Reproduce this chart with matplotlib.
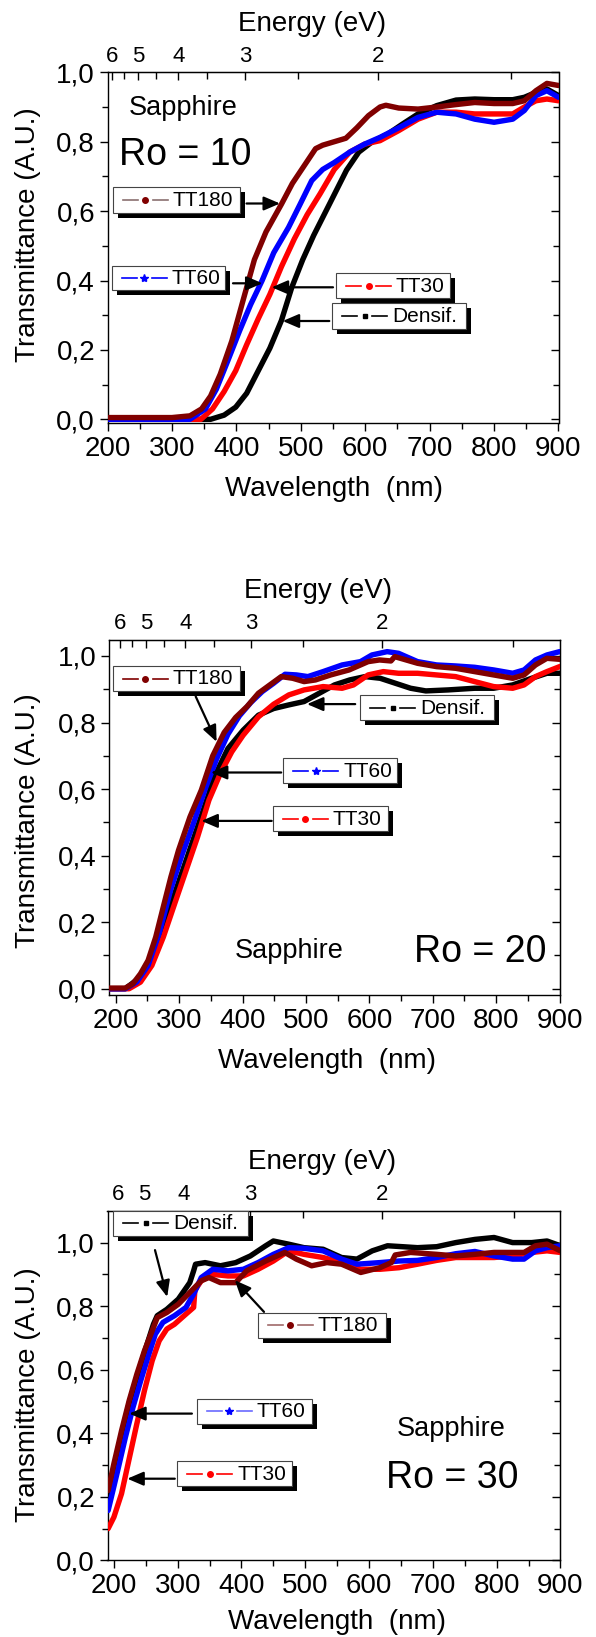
import numpy as np
import matplotlib
matplotlib.use('Agg')
import matplotlib.pyplot as plt
from matplotlib.patches import Rectangle, FancyArrowPatch
from matplotlib.lines import Line2D
from matplotlib.ticker import FuncFormatter, MultipleLocator, FixedLocator, NullFormatter

plt.rcParams['font.family'] = ['Liberation Sans', 'DejaVu Sans']

# ---------------- data: Ro = 10 ----------------
wl_r10_tt180 = [200, 300, 328, 346, 360, 375, 393, 410, 428, 446, 470, 487, 505, 523, 534, 552, 570, 587, 605, 623, 632, 652, 682, 711, 741, 770, 800, 829, 847, 865, 882, 900]
t_r10_tt180 = [0.005, 0.005, 0.01, 0.03, 0.067, 0.13, 0.226, 0.34, 0.46, 0.54, 0.62, 0.68, 0.73, 0.78, 0.79, 0.80, 0.81, 0.84, 0.875, 0.90, 0.905, 0.897, 0.894, 0.90, 0.907, 0.913, 0.91, 0.91, 0.918, 0.947, 0.968, 0.962]
wl_r10_tt60 = [200, 328, 352, 369, 387, 405, 422, 440, 458, 481, 499, 517, 534, 552, 576, 599, 623, 652, 682, 711, 741, 770, 800, 829, 847, 865, 882, 900]
t_r10_tt60 = [0.0, 0.0, 0.03, 0.087, 0.17, 0.255, 0.33, 0.40, 0.48, 0.553, 0.62, 0.688, 0.72, 0.74, 0.77, 0.793, 0.8125, 0.84, 0.87, 0.885, 0.88, 0.865, 0.856, 0.865, 0.89, 0.933, 0.947, 0.928]
wl_r10_tt30 = [200, 345, 363, 381, 399, 416, 434, 452, 470, 490, 510, 530, 552, 576, 599, 623, 652, 682, 711, 741, 770, 800, 829, 847, 865, 882, 900]
t_r10_tt30 = [0.0, 0.0, 0.03, 0.08, 0.14, 0.215, 0.29, 0.36, 0.44, 0.52, 0.59, 0.65, 0.72, 0.77, 0.793, 0.803, 0.832, 0.865, 0.885, 0.885, 0.88, 0.88, 0.88, 0.9, 0.918, 0.923, 0.918]
wl_r10_dens = [200, 360, 381, 399, 416, 434, 452, 470, 486, 503, 520, 545, 571, 590, 611, 635, 658, 682, 711, 741, 770, 800, 829, 847, 865, 882, 900]
t_r10_dens = [0.0, 0.0, 0.012, 0.035, 0.075, 0.14, 0.205, 0.285, 0.38, 0.46, 0.53, 0.622, 0.718, 0.77, 0.80, 0.822, 0.851, 0.88, 0.904, 0.92, 0.923, 0.921, 0.921, 0.928, 0.942, 0.952, 0.933]

# ---------------- data: Ro = 20 ----------------
wl_r20_tt180 = [190, 215, 227, 239, 251, 263, 275, 287, 299, 317, 335, 353, 371, 389, 407, 425, 443, 461, 479, 497, 515, 539, 568, 598, 616, 634, 640, 676, 706, 736, 766, 796, 826, 844, 862, 880, 900]
t_r20_tt180 = [0.002, 0.002, 0.015, 0.045, 0.085, 0.155, 0.246, 0.336, 0.416, 0.516, 0.597, 0.70, 0.77, 0.815, 0.848, 0.888, 0.913, 0.938, 0.933, 0.923, 0.928, 0.943, 0.958, 0.983, 0.988, 0.985, 0.998, 0.978, 0.968, 0.963, 0.953, 0.943, 0.933, 0.943, 0.973, 0.993, 0.99]
wl_r20_tt60 = [190, 215, 233, 251, 269, 287, 305, 323, 341, 359, 377, 395, 413, 431, 449, 467, 485, 503, 527, 557, 586, 604, 628, 646, 676, 706, 736, 766, 796, 826, 844, 862, 880, 900]
t_r20_tt60 = [0.0, 0.0, 0.02, 0.07, 0.17, 0.30, 0.405, 0.50, 0.60, 0.69, 0.765, 0.82, 0.86, 0.893, 0.918, 0.945, 0.943, 0.938, 0.953, 0.973, 0.983, 1.003, 1.013, 1.008, 0.983, 0.973, 0.97, 0.966, 0.958, 0.948, 0.958, 0.988, 1.003, 1.013]
wl_r20_tt30 = [190, 221, 239, 257, 275, 293, 311, 329, 347, 365, 383, 401, 425, 449, 473, 497, 527, 557, 575, 598, 622, 646, 676, 706, 736, 766, 796, 826, 844, 862, 880, 900]
t_r20_tt30 = [0.0, 0.0, 0.02, 0.07, 0.155, 0.256, 0.356, 0.456, 0.567, 0.647, 0.712, 0.762, 0.817, 0.855, 0.883, 0.898, 0.908, 0.903, 0.913, 0.943, 0.953, 0.948, 0.948, 0.943, 0.938, 0.923, 0.908, 0.903, 0.913, 0.938, 0.953, 0.968]
wl_r20_dens = [190, 215, 239, 257, 275, 293, 311, 329, 347, 353, 377, 401, 425, 449, 473, 497, 521, 545, 569, 593, 617, 641, 665, 689, 724, 766, 796, 826, 856, 880, 900]
t_r20_dens = [0.0, 0.0, 0.035, 0.095, 0.186, 0.286, 0.386, 0.486, 0.587, 0.627, 0.722, 0.777, 0.822, 0.842, 0.853, 0.863, 0.888, 0.913, 0.928, 0.938, 0.933, 0.918, 0.903, 0.895, 0.898, 0.903, 0.903, 0.913, 0.933, 0.948, 0.948]

# ---------------- data: Ro = 30 ----------------
wl_r30_tt180 = [191, 200, 212, 224, 236, 248, 260, 268, 283, 301, 319, 337, 349, 367, 391, 408, 438, 468, 486, 510, 534, 557, 587, 617, 635, 641, 665, 706, 736, 766, 796, 825, 843, 861, 879, 900]
t_r30_tt180 = [0.22, 0.304, 0.408, 0.503, 0.586, 0.66, 0.722, 0.764, 0.78, 0.806, 0.843, 0.88, 0.89, 0.874, 0.874, 0.911, 0.942, 0.969, 0.948, 0.927, 0.937, 0.932, 0.906, 0.921, 0.937, 0.961, 0.969, 0.963, 0.958, 0.963, 0.969, 0.969, 0.969, 0.99, 0.995, 0.974]
wl_r30_tt60 = [191, 206, 218, 230, 242, 254, 265, 277, 295, 313, 325, 337, 355, 379, 403, 426, 450, 474, 498, 528, 557, 581, 617, 647, 676, 706, 736, 766, 796, 825, 843, 861, 879, 900]
t_r30_tt60 = [0.157, 0.283, 0.387, 0.482, 0.565, 0.644, 0.712, 0.749, 0.77, 0.796, 0.838, 0.89, 0.916, 0.911, 0.916, 0.937, 0.963, 0.984, 0.982, 0.974, 0.948, 0.932, 0.937, 0.942, 0.944, 0.953, 0.965, 0.972, 0.958, 0.948, 0.948, 0.974, 0.984, 0.99]
wl_r30_tt30 = [191, 200, 212, 224, 236, 248, 260, 271, 283, 295, 313, 325, 327, 337, 355, 379, 403, 426, 450, 474, 498, 528, 557, 587, 617, 647, 676, 706, 736, 766, 796, 825, 855, 879, 900]
t_r30_tt30 = [0.1, 0.136, 0.21, 0.32, 0.43, 0.535, 0.628, 0.691, 0.728, 0.743, 0.775, 0.796, 0.85, 0.88, 0.9, 0.895, 0.895, 0.916, 0.942, 0.974, 0.963, 0.953, 0.937, 0.916, 0.916, 0.921, 0.932, 0.944, 0.953, 0.953, 0.953, 0.958, 0.969, 0.974, 0.969]
wl_r30_dens = [191, 200, 224, 248, 262, 268, 283, 301, 319, 325, 328, 343, 367, 391, 414, 438, 450, 474, 498, 528, 557, 581, 605, 629, 653, 676, 706, 736, 766, 796, 825, 855, 879, 900]
t_r30_dens = [0.21, 0.29, 0.495, 0.655, 0.743, 0.77, 0.79, 0.822, 0.874, 0.911, 0.932, 0.937, 0.927, 0.937, 0.958, 0.99, 1.005, 0.995, 0.984, 0.979, 0.953, 0.948, 0.974, 0.99, 0.987, 0.984, 0.987, 1.0, 1.01, 1.016, 1.0, 1.0, 1.005, 0.99]

energy_ticks = [6, 5, 4, 3, 2]
energy_minor = [5.5, 4.5, 3.5, 2.5, 1.5]

C_TT180 = '#800000'
C_TT60 = '#0000ff'
C_TT30 = '#ff0000'
C_DENS = '#000000'

W, H = 596, 1637
fig = plt.figure(figsize=(W / 100, H / 100), dpi=100)


def fx(x):
    return x / W


def fy(y):
    return 1 - y / H


def comma(v, pos):
    return f"{v:.1f}".replace('.', ',')


def make_axes(l, t, r, b, xlim, ylim):
    ax = fig.add_axes([fx(l), fy(b), (r - l) / W, (b - t) / H])
    ax.set_xlim(*xlim)
    ax.set_ylim(*ylim)
    for s in ax.spines.values():
        s.set_linewidth(1.0)
    ax.xaxis.set_major_locator(MultipleLocator(100))
    ax.xaxis.set_minor_locator(MultipleLocator(50))
    ax.yaxis.set_major_locator(FixedLocator([0, 0.2, 0.4, 0.6, 0.8, 1.0]))
    ax.yaxis.set_minor_locator(FixedLocator([0.1, 0.3, 0.5, 0.7, 0.9]))
    ax.yaxis.set_major_formatter(FuncFormatter(comma))
    ax.tick_params(which='both', top=False, right=False, direction='out', width=1.0)
    ax.tick_params(which='major', length=6, labelsize=20)
    ax.tick_params(which='minor', length=4)
    ax.tick_params(axis='x', which='major', pad=3)
    ax.tick_params(axis='y', which='major', pad=3)

    sec = ax.secondary_xaxis('top', functions=(lambda x: 1240.0 / np.asarray(x, float),
                                               lambda e: 1240.0 / np.asarray(e, float)))
    sec.xaxis.set_major_locator(FixedLocator(energy_ticks))
    sec.xaxis.set_minor_locator(FixedLocator(energy_minor))
    sec.xaxis.set_major_formatter(FuncFormatter(lambda v, p: f"{v:g}"))
    sec.tick_params(which='both', direction='in', width=1.0)
    sec.tick_params(which='major', length=6, labelsize=16, pad=4)
    sec.tick_params(which='minor', length=5)

    sr = ax.secondary_yaxis('right')
    sr.yaxis.set_major_locator(FixedLocator([0, 0.2, 0.4, 0.6, 0.8, 1.0]))
    sr.yaxis.set_minor_locator(FixedLocator([0.1, 0.3, 0.5, 0.7, 0.9]))
    sr.yaxis.set_major_formatter(NullFormatter())
    sr.tick_params(which='both', direction='in', width=1.0)
    sr.tick_params(which='major', length=6)
    sr.tick_params(which='minor', length=4)
    return ax


def curves(ax, series):
    for wl, t, c in series:
        ax.plot(wl, t, color=c, lw=3.9, solid_capstyle='round', solid_joinstyle='round', zorder=3)


def tag(x0, y0, x1, y1, text, lcolor, mcolor, marker, ms=4):
    w, h = x1 - x0, y1 - y0
    fig.add_artist(Rectangle((fx(x0 + 5), fy(y1 + 5)), w / W, h / H, transform=fig.transFigure,
                             facecolor='black', edgecolor='none', zorder=10))
    fig.add_artist(Rectangle((fx(x0), fy(y1)), w / W, h / H, transform=fig.transFigure,
                             facecolor='white', edgecolor='#444444', lw=0.8, zorder=11))
    yc = (y0 + y1) / 2
    for a, b in ((x0 + 10, x0 + 25), (x0 + 40, x0 + 55)):
        fig.add_artist(Line2D([fx(a), fx(b)], [fy(yc), fy(yc)], transform=fig.transFigure,
                              color=lcolor, lw=1.2, zorder=12))
    fig.add_artist(Line2D([fx(x0 + 32.5)], [fy(yc)], transform=fig.transFigure, marker=marker,
                          ms=ms, color=mcolor, mec=mcolor, ls='none', zorder=12))
    fig.text(fx(x0 + 60), fy(yc + 0.5), text, fontsize=15, ha='left', va='center', zorder=12)


def arrow(xa, ya, xb, yb):
    fig.add_artist(FancyArrowPatch((fx(xa), fy(ya)), (fx(xb), fy(yb)), transform=fig.transFigure,
                                   arrowstyle='-|>,head_length=0.7,head_width=0.3', mutation_scale=14,
                                   lw=1.6, color='black', shrinkA=0, shrinkB=0, zorder=9))


def labels(ylab_y, xlab_x, xlab_y, en_x, en_y):
    fig.text(fx(28.5), fy(ylab_y), 'Transmittance (A.U.)', rotation=90, fontsize=20,
             ha='center', va='center')
    fig.text(fx(xlab_x), fy(xlab_y), 'Wavelength  (nm)', fontsize=20, ha='center', va='center')
    fig.text(fx(en_x), fy(en_y), 'Energy (eV)', fontsize=20, ha='center', va='center')


# ---------------- Panel 1 : Ro = 10 ----------------
ax1 = make_axes(107.5, 72.3, 558.5, 423.3, (200, 900), (-0.0115, 1.0))
curves(ax1, [(wl_r10_dens, t_r10_dens, C_DENS), (wl_r10_tt30, t_r10_tt30, C_TT30),
             (wl_r10_tt60, t_r10_tt60, C_TT60), (wl_r10_tt180, t_r10_tt180, C_TT180)])
labels(234.8, 334.3, 489.4, 312.1, 24)
fig.text(fx(129), fy(108), 'Sapphire', fontsize=19.5, ha='left', va='center')
fig.text(fx(119), fy(155), 'Ro = 10', fontsize=27, ha='left', va='center')
tag(112.5, 187, 240, 212.5, 'TT180', '#8a7070', C_TT180, 'o', 4)
arrow(246.5, 203.5, 280, 203.5)
tag(111.5, 265.5, 225, 290, 'TT60', C_TT60, C_TT60, '*', 6)
arrow(233, 283.3, 262.5, 283.3)
tag(336, 273.3, 450, 297.7, 'TT30', C_TT30, C_TT30, 'o', 4)
arrow(333, 287.3, 271.7, 287.3)
tag(332.3, 303.3, 466, 329.3, 'Densif.', C_DENS, C_DENS, 's', 3.5)
arrow(329.3, 321, 282.7, 321)

# ---------------- Panel 2 : Ro = 20 ----------------
ax2 = make_axes(109.4, 640, 559.6, 995.4, (190, 900), (-0.02, 1.048))
curves(ax2, [(wl_r20_dens, t_r20_dens, C_DENS), (wl_r20_tt30, t_r20_tt30, C_TT30),
             (wl_r20_tt60, t_r20_tt60, C_TT60), (wl_r20_tt180, t_r20_tt180, C_TT180)])
labels(820.3, 326.7, 1060.5, 318.2, 590.7)
fig.text(fx(234.4), fy(951), 'Sapphire', fontsize=19.5, ha='left', va='center')
fig.text(fx(414), fy(952), 'Ro = 20', fontsize=27, ha='left', va='center')
tag(112.5, 666, 240, 691, 'TT180', C_TT180, C_TT180, 'o', 4)
arrow(195.7, 696.5, 216.6, 741.8)
tag(360.2, 695, 494, 720.2, 'Densif.', C_DENS, C_DENS, 's', 3.5)
arrow(355.2, 704.1, 307, 704.1)
tag(283, 758, 397, 783, 'TT60', C_TT60, C_TT60, '*', 6)
arrow(281.2, 772.5, 210.9, 772.5)
tag(272.8, 806.2, 387.5, 831.3, 'TT30', C_TT30, C_TT30, 'o', 4)
arrow(271.7, 820.9, 201.4, 820.9)

# ---------------- Panel 3 : Ro = 30 ----------------
ax3 = make_axes(107.5, 1210.8, 560.4, 1560.4, (190, 900), (0.0, 1.1))
curves(ax3, [(wl_r30_dens, t_r30_dens, C_DENS), (wl_r30_tt30, t_r30_tt30, C_TT30),
             (wl_r30_tt60, t_r30_tt60, C_TT60), (wl_r30_tt180, t_r30_tt180, C_TT180)])
labels(1394.3, 336.6, 1622.2, 321.8, 1161.7)
fig.text(fx(396.3), fy(1429.3), 'Sapphire', fontsize=19.5, ha='left', va='center')
fig.text(fx(385.6), fy(1477.7), 'Ro = 30', fontsize=27, ha='left', va='center')
tag(113.2, 1210.8, 247.7, 1236.1, 'Densif.', C_DENS, C_DENS, 's', 3.5)
arrow(155, 1250.1, 167.2, 1296.9)
tag(257.6, 1312.5, 385.6, 1337.9, 'TT180', '#a06a6a', C_TT180, 'o', 4)
arrow(264, 1311.9, 234.8, 1280.2)
tag(196.8, 1399, 311.6, 1423.6, 'TT60', '#6a6aff', C_TT60, '*', 6)
arrow(191.9, 1413.6, 129.2, 1413.6)
tag(177, 1461, 291.8, 1486, 'TT30', C_TT30, C_TT30, 'o', 4)
arrow(174.8, 1478.7, 127.3, 1478.7)

fig.savefig('out.png', dpi=100)
